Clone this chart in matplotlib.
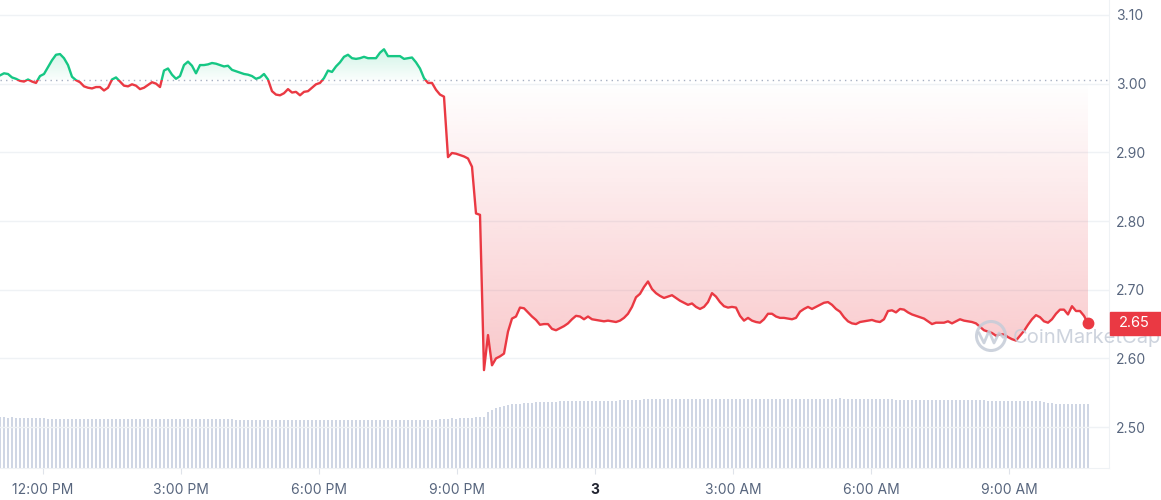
import numpy as np
import matplotlib.pyplot as plt
from matplotlib.patches import Rectangle, Circle
from matplotlib.transforms import blended_transform_factory

plt.rcParams['font.family'] = ['Inter', 'DejaVu Sans']

# price samples, evenly spaced (~5 min apart), USD
price = [
    3.012, 3.015, 3.014, 3.009, 3.007, 3.004, 3.003, 3.006, 3.003, 3.001,
    3.011, 3.014, 3.024, 3.034, 3.042, 3.043, 3.037, 3.027, 3.010, 3.005,
    3.002, 2.996, 2.994, 2.993, 2.995, 2.995, 2.990, 2.994, 3.006, 3.009,
    3.003, 2.997, 2.996, 2.999, 2.997, 2.992, 2.994, 2.998, 3.002, 3.000,
    2.995, 3.019, 3.022, 3.013, 3.007, 3.011, 3.027, 3.032, 3.026, 3.015,
    3.027, 3.027, 3.028, 3.030, 3.029, 3.027, 3.025, 3.026, 3.020, 3.018,
    3.016, 3.014, 3.013, 3.011, 3.007, 3.009, 3.014, 3.006, 2.989, 2.984,
    2.983, 2.986, 2.992, 2.987, 2.988, 2.983, 2.988, 2.989, 2.994, 2.999,
    3.001, 3.008, 3.019, 3.017, 3.025, 3.031, 3.039, 3.042, 3.037, 3.036,
    3.037, 3.039, 3.037, 3.037, 3.037, 3.045, 3.050, 3.040, 3.040, 3.040,
    3.040, 3.036, 3.037, 3.038, 3.031, 3.022, 3.008, 3.001, 3.001, 2.991,
    2.984, 2.981, 2.893, 2.899, 2.898, 2.896, 2.894, 2.891, 2.879, 2.811,
    2.809, 2.583, 2.634, 2.590, 2.600, 2.603, 2.607, 2.639, 2.658, 2.661,
    2.674, 2.673, 2.667, 2.661, 2.656, 2.649, 2.650, 2.650, 2.643, 2.641,
    2.644, 2.647, 2.651, 2.657, 2.662, 2.661, 2.657, 2.661, 2.657, 2.656,
    2.655, 2.654, 2.655, 2.654, 2.653, 2.655, 2.659, 2.665, 2.675, 2.689,
    2.694, 2.704, 2.712, 2.701, 2.695, 2.691, 2.688, 2.690, 2.692, 2.688,
    2.684, 2.681, 2.678, 2.680, 2.675, 2.672, 2.675, 2.682, 2.695, 2.690,
    2.682, 2.676, 2.674, 2.675, 2.674, 2.662, 2.655, 2.659, 2.655, 2.653,
    2.652, 2.657, 2.665, 2.665, 2.661, 2.659, 2.659, 2.658, 2.657, 2.659,
    2.668, 2.672, 2.675, 2.672, 2.675, 2.678, 2.681, 2.682, 2.678, 2.672,
    2.668, 2.660, 2.654, 2.651, 2.650, 2.653, 2.654, 2.655, 2.656, 2.654,
    2.653, 2.657, 2.669, 2.670, 2.667, 2.672, 2.671, 2.667, 2.664, 2.662,
    2.660, 2.658, 2.654, 2.650, 2.652, 2.652, 2.652, 2.654, 2.651, 2.654,
    2.657, 2.655, 2.654, 2.653, 2.651, 2.646, 2.641, 2.639, 2.637, 2.633,
    2.635, 2.635, 2.631, 2.628, 2.626, 2.633, 2.640, 2.649, 2.657, 2.663,
    2.660, 2.654, 2.652, 2.657, 2.665, 2.671, 2.671, 2.664, 2.676, 2.669,
    2.669, 2.662, 2.651,
]

# 24h volume (millions) at the same samples
volume = [
    50.6, 50.6, 50.5, 50.6, 50.5, 50.5, 50.4, 50.5, 50.4, 50.4,
    50.3, 50.2, 49.3, 49.2, 49.2, 49.1, 49.2, 49.1, 49.1, 49.0,
    49.1, 49.0, 49.0, 49.1, 49.0, 49.0, 48.9, 49.0, 49.0, 48.9,
    49.0, 48.9, 48.9, 49.0, 48.9, 48.9, 48.8, 48.9, 48.9, 48.8,
    48.9, 48.8, 48.8, 48.9, 48.8, 48.8, 48.8, 48.7, 48.8, 48.8,
    48.7, 48.8, 48.7, 48.7, 48.7, 48.6, 48.7, 48.6, 48.6, 48.3,
    48.0, 48.0, 47.9, 48.0, 47.9, 47.9, 48.0, 47.9, 47.9, 47.8,
    47.9, 47.8, 47.8, 47.9, 47.8, 47.8, 47.8, 47.7, 47.8, 47.8,
    47.7, 47.8, 47.7, 47.7, 47.8, 47.7, 47.7, 47.7, 47.8, 47.7,
    47.7, 47.8, 47.7, 47.7, 47.7, 47.8, 47.7, 47.8, 47.8, 47.8,
    47.8, 47.9, 47.8, 47.9, 47.9, 48.0, 48.0, 48.1, 48.2, 48.4,
    49.4, 49.5, 49.5, 49.6, 49.5, 49.6, 49.6, 49.7, 50.2, 51.0,
    51.2, 51.3, 56.5, 58.4, 60.1, 61.3, 62.2, 63.0, 63.6, 64.1,
    64.5, 64.9, 65.2, 65.5, 65.7, 65.9, 66.1, 66.2, 66.4, 66.5,
    66.6, 66.7, 66.8, 66.9, 66.9, 67.0, 67.0, 67.1, 67.2, 67.2,
    67.3, 67.3, 67.4, 67.5, 67.5, 67.6, 67.7, 67.8, 68.0, 68.2,
    68.4, 68.6, 68.7, 68.8, 68.9, 69.0, 69.0, 69.0, 69.1, 69.1,
    69.1, 69.2, 69.1, 69.2, 69.2, 69.1, 69.2, 69.3, 69.4, 69.4,
    69.3, 69.3, 69.2, 69.2, 69.3, 69.2, 69.2, 69.1, 69.1, 69.2,
    69.1, 69.1, 69.0, 69.1, 69.0, 69.0, 69.1, 69.0, 68.9, 69.0,
    69.0, 69.1, 69.2, 69.2, 69.3, 69.3, 69.4, 69.4, 69.5, 69.5,
    69.6, 69.5, 69.5, 69.4, 69.3, 69.2, 69.1, 69.0, 68.9, 68.8,
    68.8, 68.7, 68.7, 68.6, 68.5, 68.5, 68.4, 68.4, 68.3, 68.3,
    68.2, 68.2, 68.1, 68.1, 68.0, 68.0, 68.0, 67.9, 67.9, 67.8,
    67.8, 67.8, 67.7, 67.7, 67.7, 67.6, 67.6, 67.5, 67.5, 67.5,
    67.4, 67.4, 67.4, 67.3, 67.3, 67.3, 67.2, 67.2, 67.1, 67.0,
    66.8, 66.1, 65.0, 64.6, 64.5, 64.5, 64.4, 64.4, 64.5, 64.4,
    64.4, 64.3, 64.4,
]

open_price = 3.005
time_ticks = [10.75, 45.25, 79.75, 114.25, 148.75, 183.25, 217.75, 252.25]
time_labels = ["12:00 PM", "3:00 PM", "6:00 PM", "9:00 PM", "3",
               "3:00 AM", "6:00 AM", "9:00 AM"]
price_ticks = [2.50, 2.60, 2.70, 2.80, 2.90, 3.00, 3.10]

GREEN = '#16c784'
RED = '#ea3943'
GREY = '#58667e'
GRID = '#eff2f5'

price = np.array(price)
x = np.arange(len(price))
x_max = 277.25
y_lo, y_hi = 2.4405, 3.1217

fig = plt.figure(figsize=(11.61, 5.0), dpi=100)
ax = fig.add_axes([0.0, 0.064, 0.9552, 0.936])
axv = ax.twinx()
ax.set_zorder(axv.get_zorder() + 1)
ax.patch.set_visible(False)

# volume bars
axv.bar(x, volume, width=0.42, color='#cfd6e4', linewidth=0)
axv.set_ylim(0, 468)
axv.set_yticks([])
for s in axv.spines.values():
    s.set_visible(False)

# grid
for p in price_ticks:
    ax.axhline(p, color=GRID, lw=1, zorder=0)
ax.axhline(open_price, color='#a6b0c3', lw=1, ls=(0, (1, 3)), zorder=1)

# gradient fills
red_poly = ax.fill_between(x, open_price, np.minimum(price, open_price),
                           facecolor='none', edgecolor='none')
grad = np.zeros((256, 1, 4))
grad[:, 0, :3] = np.array([234, 57, 67]) / 255
grad[:, 0, 3] = np.linspace(0.28, 0.0, 256)
im = ax.imshow(grad, extent=[0, x[-1], price.min(), open_price],
               origin='lower', aspect='auto', zorder=1)
im.set_clip_path(red_poly.get_paths()[0], ax.transData)

green_poly = ax.fill_between(x, open_price, np.maximum(price, open_price),
                             facecolor='none', edgecolor='none')
grad_g = np.zeros((256, 1, 4))
grad_g[:, 0, :3] = np.array([22, 199, 132]) / 255
grad_g[:, 0, 3] = np.linspace(0.02, 0.2, 256)
im_g = ax.imshow(grad_g, extent=[0, x[-1], open_price, price.max()],
                 origin='lower', aspect='auto', zorder=1)
im_g.set_clip_path(green_poly.get_paths()[0], ax.transData)

# price line, green above the open price and red below it
above = Rectangle((-10, open_price), 400, 5, transform=ax.transData)
below = Rectangle((-10, open_price - 5), 400, 5, transform=ax.transData)
lg, = ax.plot(x, price, color=GREEN, lw=1.7, zorder=3, solid_joinstyle='round')
lr, = ax.plot(x, price, color=RED, lw=1.7, zorder=3, solid_joinstyle='round')
lg.set_clip_path(above)
lr.set_clip_path(below)
ax.plot(x[-1], price[-1], 'o', color=RED, ms=7.5, zorder=4)

ax.set_xlim(0, x_max)
ax.set_ylim(y_lo, y_hi)

# axes styling
for side in ['top', 'left']:
    ax.spines[side].set_visible(False)
for side in ['bottom', 'right']:
    ax.spines[side].set_color(GRID)
ax.yaxis.tick_right()
ax.set_yticks(price_ticks)
ax.set_yticklabels(['%.2f' % p for p in price_ticks])
ax.tick_params(axis='y', length=0, pad=5, labelsize=10, labelcolor=GREY)
ax.set_xticks(time_ticks)
ax.set_xticklabels(time_labels)
ax.tick_params(axis='x', length=4, color='#dfe3ea', pad=7, labelsize=10,
               labelcolor=GREY)
for lab in ax.get_xticklabels():
    if lab.get_text() == "3":
        lab.set_color('#222531')
        lab.set_fontweight('bold')

# last price tag
tr = blended_transform_factory(fig.transFigure, ax.transData)
fig.add_artist(Rectangle((0.956, price[-1] - 0.0165), 0.044, 0.033,
                         transform=tr, color=RED, clip_on=False, zorder=5))
fig.text(0.9772, price[-1], '%.2f' % price[-1], transform=tr, color='white',
         fontsize=10.5, ha='center', va='center', zorder=6)

# watermark (sits below the price tag)
wm = '#c5ccd8'
fig.add_artist(Circle((9.91, 1.64), 0.145, transform=fig.dpi_scale_trans,
                      fill=False, ec=wm, lw=2.2, alpha=0.85, zorder=4))
fig.add_artist(plt.Line2D([9.79, 9.84, 9.89, 9.94, 9.99, 10.03],
                          [1.67, 1.57, 1.69, 1.57, 1.67, 1.63],
                          transform=fig.dpi_scale_trans, color=wm, lw=2.0,
                          alpha=0.85, zorder=4))
fig.text(10.13 / 11.61, 1.62 / 5.0, 'CoinMarketCap', color=wm, fontsize=14.5,
         ha='left', va='center', alpha=0.85, zorder=4)

fig.savefig('out.png', dpi=100)
